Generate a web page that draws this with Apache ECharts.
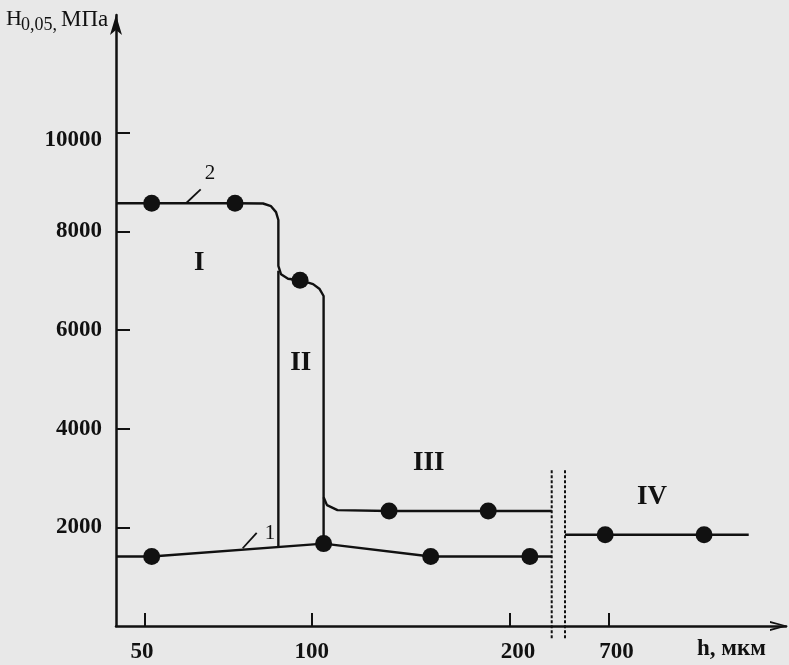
<!DOCTYPE html>
<html>
<head>
<meta charset="utf-8">
<script src="https://cdn.jsdelivr.net/npm/echarts@6/dist/echarts.min.js"></script>
<style>
  html, body { margin: 0; padding: 0; background: #e8e8e8; }
  #chart { width: 789px; height: 665px; }
</style>
</head>
<body>
<div id="chart"></div>
<script>
// ---------- data (h in µm, H0,05 in MPa) ----------
const xTicks = [50, 100, 200, 700];
const yTicks = [2000, 4000, 6000, 8000, 10000];

const hAxisStart = 41.3;          // h at the y axis
const hBreak = [221, 564];        // broken axis between these values

// curve 1 (lower)
const curve1H = [52, 106, 160, 210];
const curve1V = [1410, 1670, 1410, 1410];

// curve 2 (upper), measured points
const curve2H = [52, 77, 96.5];
const curve2V = [8570, 8570, 7010];
// curve 2 traced path (rounded steps)
const curve2PathH = [41.3, 52, 77, 85.4, 87.8, 89.3, 90.0, 90.0, 90.8, 92.9, 96.5, 100.7, 104, 106, 106];
const curve2PathV = [8570, 8570, 8570, 8565, 8510, 8390, 8230, 7300, 7130, 7040, 7010, 6930, 6830, 6690, 1670];

// boundary I / II
const boundaryH = [90, 90];
const boundaryV = [7200, 1600];

// region III branch
const curve3H = [139, 189];
const curve3V = [2330, 2330];
const curve3PathH = [106, 107.7, 113, 139, 189, 221];
const curve3PathV = [2610, 2450, 2350, 2330, 2330, 2330];

// region IV
const curve4H = [690, 1000];
const curve4V = [1850, 1850];
const curve4PathH = [564, 690, 1000, 1140];
const curve4PathV = [1850, 1850, 1850, 1850];

// dotted break lines
const breakLineV = [-250, 3160];

// annotations
const regionNames = ['I', 'II', 'III', 'IV'];
const regionH = [66.3, 96.7, 159, 837];
const regionV = [7350, 5330, 3310, 2610];
const curveNames = ['1', '2'];
const curveNameH = [87.5, 69.5];
const curveNameV = [1874, 9177];
const leader1H = [79.3, 83.5];
const leader1V = [1576, 1886];
const leader2H = [62.3, 66.7];
const leader2V = [8570, 8852];

// ---------- piecewise (broken) h scale ----------
const SCALE_H = [41.3, 100, 221, 564, 1250];
const SCALE_U = [0, 195.7, 435.7, 449, 667.8];
function toU(h) {
  let i = 0;
  while (i < SCALE_H.length - 2 && h > SCALE_H[i + 1]) i++;
  const t = (h - SCALE_H[i]) / (SCALE_H[i + 1] - SCALE_H[i]);
  return SCALE_U[i] + t * (SCALE_U[i + 1] - SCALE_U[i]);
}
function fromU(u) {
  let i = 0;
  while (i < SCALE_U.length - 2 && u > SCALE_U[i + 1]) i++;
  const t = (u - SCALE_U[i]) / (SCALE_U[i + 1] - SCALE_U[i]);
  return SCALE_H[i] + t * (SCALE_H[i + 1] - SCALE_H[i]);
}
function pts(hs, vs) { return hs.map((h, i) => [toU(h), vs[i]]); }

const FONT = "'Liberation Serif', 'Times New Roman', serif";
const INK = '#111111';

function pathSeries(data, extra) {
  return Object.assign({
    type: 'line', data: data, symbol: 'none', silent: true, clip: false,
    lineStyle: { color: INK, width: 2.4 }, z: 3
  }, extra || {});
}
function pointSeries(data) {
  return {
    type: 'scatter', data: data, symbol: 'circle', symbolSize: 17, silent: true,
    itemStyle: { color: INK, opacity: 1 }, z: 5
  };
}
function labelSeries(names, hs, vs, style) {
  return {
    type: 'scatter', silent: true, symbolSize: 2, itemStyle: { color: 'rgba(0,0,0,0)', opacity: 1 }, z: 6,
    data: names.map((n, i) => ({ name: n, value: [toU(hs[i]), vs[i]] })),
    label: Object.assign({
      show: true, position: 'inside', formatter: p => p.name,
      color: INK, fontFamily: FONT
    }, style)
  };
}

const xLabelRich = {
  a: { padding: [0, 6, 0, 0] },
  b: { padding: [0, 0, 0, 0] },
  c: { padding: [0, 0, 0, 16] }
};
const xLabelStyleKey = { 50: 'a', 100: 'b', 200: 'c', 700: 'c' };

const chart = echarts.init(document.getElementById('chart'), null, { renderer: 'canvas' });
chart.setOption({
  backgroundColor: '#e8e8e8',
  animation: false,
  grid: { left: 116, right: 3, top: 15, bottom: 39 },
  xAxis: {
    type: 'value', min: 0, max: 670,
    axisLine: {
      show: true, onZero: false,
      lineStyle: { color: INK, width: 2.5 },
      symbol: ['none', 'path://M0,18 L5,0 L10,18 L7.9,18 L5,5.5 L2.1,18 Z'],
      symbolSize: [11, 18], symbolOffset: [0, -7]
    },
    axisTick: {
      show: true, inside: true, length: 13,
      lineStyle: { color: INK, width: 2 },
      customValues: xTicks.map(toU)
    },
    axisLabel: {
      customValues: xTicks.map(toU),
      margin: 15,
      color: INK, fontFamily: FONT, fontSize: 23, fontWeight: 'bold',
      formatter: function (v) {
        const h = Math.round(fromU(v));
        return '{' + (xLabelStyleKey[h] || 'b') + '|' + h + '}';
      },
      rich: xLabelRich
    },
    splitLine: { show: false }
  },
  yAxis: {
    type: 'value', min: 0, max: 12386,
    axisLine: {
      show: true, onZero: false,
      lineStyle: { color: INK, width: 2.5 },
      symbol: ['none', 'arrow'], symbolSize: [9, 20]
    },
    axisTick: {
      show: true, inside: true, length: 14,
      lineStyle: { color: INK, width: 2 },
      customValues: yTicks
    },
    axisLabel: {
      customValues: yTicks,
      margin: 14,
      color: INK, fontFamily: FONT, fontSize: 23, fontWeight: 'bold',
      formatter: function (v) { return v === 10000 ? '{low|' + v + '}' : '' + v; },
      rich: { low: { padding: [14, 0, 0, 0] } }
    },
    splitLine: { show: false }
  },
  series: [
    pathSeries([[toU(hAxisStart), curve1V[0]]].concat(pts(curve1H, curve1V), [[toU(hBreak[0]), curve1V[3]]])),
    pathSeries(pts(curve2PathH, curve2PathV)),
    pathSeries(pts(boundaryH, boundaryV)),
    pathSeries(pts(curve3PathH, curve3PathV)),
    pathSeries(pts(curve4PathH, curve4PathV)),
    pathSeries(pts([hBreak[0], hBreak[0]], breakLineV), { lineStyle: { color: INK, width: 2, type: [3, 2] } }),
    pathSeries(pts([hBreak[1], hBreak[1]], breakLineV), { lineStyle: { color: INK, width: 2, type: [3, 2] } }),
    pathSeries(pts(leader1H, leader1V), { lineStyle: { color: INK, width: 1.8 } }),
    pathSeries(pts(leader2H, leader2V), { lineStyle: { color: INK, width: 1.8 } }),
    pointSeries(pts(curve1H, curve1V)),
    pointSeries(pts(curve2H, curve2V)),
    pointSeries(pts(curve3H, curve3V)),
    pointSeries(pts(curve4H, curve4V)),
    labelSeries(regionNames, regionH, regionV, { fontSize: 27, fontWeight: 'bold' }),
    labelSeries(curveNames, curveNameH, curveNameV, { fontSize: 21 })
  ],
  graphic: [
    { type: 'text', left: 6, top: 8, silent: true,
      style: { text: 'H', font: '22px ' + FONT, fill: INK } },
    { type: 'text', left: 21, top: 16, silent: true,
      style: { text: '0,05,', font: '18px ' + FONT, fill: INK } },
    { type: 'text', left: 61, top: 8, silent: true,
      style: { text: 'МПа', font: '23px ' + FONT, fill: INK } },
    { type: 'text', left: 697, top: 638, silent: true,
      style: { text: 'h, мкм', font: 'bold 23px ' + FONT, fill: INK } }
  ]
});
</script>
</body>
</html>
